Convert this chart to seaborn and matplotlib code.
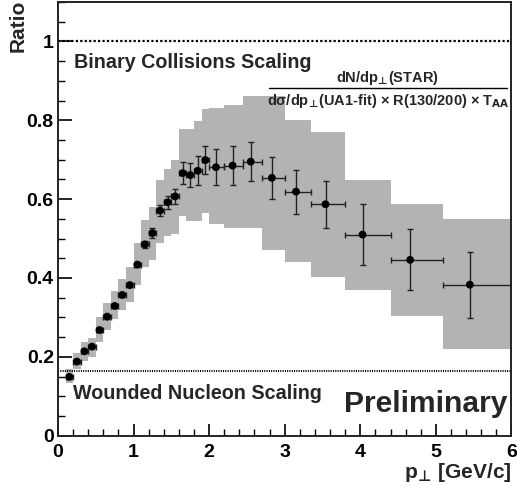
import numpy as np
import pandas as pd
import matplotlib
matplotlib.use("Agg")
import matplotlib.pyplot as plt
import seaborn as sns
from matplotlib.ticker import FixedLocator, FixedFormatter, MultipleLocator

# mean p_perp of each bin and the measured ratio
pt = [0.15, 0.25, 0.35, 0.45, 0.55, 0.65, 0.75, 0.85, 0.95, 1.05,
      1.15, 1.25, 1.35, 1.45, 1.55, 1.65, 1.75, 1.85, 1.95, 2.09,
      2.31, 2.55, 2.83, 3.15, 3.54, 4.03, 4.66, 5.45]
ratio = [0.149, 0.188, 0.214, 0.226, 0.268, 0.302, 0.329, 0.357, 0.382, 0.434,
         0.485, 0.514, 0.571, 0.592, 0.607, 0.666, 0.661, 0.672, 0.699, 0.681,
         0.685, 0.695, 0.654, 0.619, 0.587, 0.510, 0.446, 0.383]
stat_err = [0.003, 0.003, 0.004, 0.004, 0.004, 0.005, 0.005, 0.006, 0.006, 0.007,
            0.008, 0.013, 0.015, 0.017, 0.019, 0.027, 0.031, 0.037, 0.036, 0.046,
            0.050, 0.050, 0.053, 0.056, 0.060, 0.077, 0.077, 0.084]

# bin edges (horizontal bars + systematic boxes)
bin_edges = [0.1, 0.2, 0.3, 0.4, 0.5, 0.6, 0.7, 0.8, 0.9, 1.0,
             1.1, 1.2, 1.3, 1.4, 1.5, 1.6, 1.7, 1.8, 1.9, 2.0,
             2.2, 2.45, 2.7, 3.0, 3.35, 3.8, 4.4, 5.1, 6.0]
sys_low = [0.133, 0.168, 0.190, 0.200, 0.237, 0.268, 0.297, 0.318, 0.340, 0.383,
           0.428, 0.445, 0.490, 0.506, 0.512, 0.556, 0.545, 0.545, 0.566, 0.537,
           0.527, 0.527, 0.470, 0.440, 0.403, 0.369, 0.303, 0.219]
sys_high = [0.168, 0.209, 0.237, 0.249, 0.301, 0.337, 0.366, 0.398, 0.428, 0.489,
            0.546, 0.581, 0.649, 0.677, 0.700, 0.778, 0.778, 0.797, 0.829, 0.830,
            0.840, 0.862, 0.862, 0.800, 0.770, 0.649, 0.587, 0.549]

binary_level = 1.0
wounded_level = 0.164

x_ticks = [0, 1, 2, 3, 4, 5, 6]
x_tick_labels = ["0", "1", "2", "3", "4", "5", "6"]
y_ticks = [0, 0.2, 0.4, 0.6, 0.8, 1.0]
y_tick_labels = ["0", "0.2", "0.4", "0.6", "0.8", "1"]


def main():
    sns.set_style("white")
    plt.rcParams['font.family'] = ['Liberation Sans', 'DejaVu Sans']
    plt.rcParams['font.weight'] = 'bold'
    plt.rcParams['mathtext.fontset'] = 'dejavusans'

    df = pd.DataFrame({"pt": pt, "ratio": ratio, "err": stat_err})
    edges = np.array(bin_edges)
    x = np.array(pt)

    fig = plt.figure(figsize=(5.17, 4.86), dpi=100)
    ax = fig.add_axes([0.1122, 0.1035, 0.877, 0.8924])

    # systematic boxes
    ax.fill_between(edges, sys_low + [sys_low[-1]], sys_high + [sys_high[-1]],
                    step="post", color="#b3b3b3", linewidth=0, zorder=1)

    ax.axhline(binary_level, color="black", lw=1.6, ls=(0, (1, 1)), zorder=2)
    ax.axhline(wounded_level, color="black", lw=1.5, ls=(0, (0.5, 0.6)), zorder=2)

    ax.errorbar(x, ratio, yerr=stat_err,
                xerr=[x - edges[:-1], edges[1:] - x],
                fmt="none", ecolor="#222222", elinewidth=1.0,
                capsize=2, capthick=1.0, zorder=3)
    sns.scatterplot(data=df, x="pt", y="ratio", ax=ax, color="black",
                    s=32, edgecolor="none", zorder=4, legend=False)

    ax.set_xlim(0, 6)
    ax.set_ylim(0, 1.1)
    ax.xaxis.set_major_locator(FixedLocator(x_ticks))
    ax.xaxis.set_major_formatter(FixedFormatter(x_tick_labels))
    ax.xaxis.set_minor_locator(MultipleLocator(0.2))
    ax.yaxis.set_major_locator(FixedLocator(y_ticks))
    ax.yaxis.set_major_formatter(FixedFormatter(y_tick_labels))
    ax.yaxis.set_minor_locator(MultipleLocator(0.05))
    ax.tick_params(which="both", direction="in", top=False, right=False,
                   bottom=True, left=True, colors="black", labelsize=14)
    ax.tick_params(axis="y", which="major", length=10, width=1.2, pad=3)
    ax.tick_params(axis="y", which="minor", length=5, width=1.0)
    ax.tick_params(axis="x", which="major", length=9, width=1.2, pad=6)
    ax.tick_params(axis="x", which="minor", length=5, width=1.0)
    for lab in ax.get_xticklabels() + ax.get_yticklabels():
        lab.set_fontweight("bold")
    for sp in ax.spines.values():
        sp.set_color("#222222")
        sp.set_linewidth(1.4)

    ax.set_ylabel("Ratio", loc="top", fontsize=15, fontweight="bold")
    ax.yaxis.set_label_coords(-0.066, 1.005)
    ax.set_xlabel(r"p$_{\!\bot\!}$ [GeV/c]", loc="right", fontsize=15, fontweight="bold")
    ax.xaxis.set_label_coords(1.0, -0.058)

    ax.text(0.21, 0.946, "Binary Collisions Scaling", fontsize=14.2,
            fontweight="bold", va="center", ha="left")
    ax.text(0.20, 0.108, "Wounded Nucleon Scaling", fontsize=14.2,
            fontweight="bold", va="center", ha="left")
    ax.text(5.94, 0.08, "Preliminary", fontsize=21.6, fontweight="bold",
            va="center", ha="right")

    ax.text(4.365, 0.908, r"dN/dp$_{\!\bot\!}$(STAR)", fontsize=10.5,
            fontweight="bold", va="center", ha="center")
    ax.plot([2.79, 5.94], [0.883, 0.883], color="black", lw=1.0)
    ax.text(4.365, 0.848, r"dσ/dp$_{\!\bot\!}$(UA1-fit) × R(130/200) × T$_{\mathbf{AA}}$",
            fontsize=10.5, fontweight="bold", va="center", ha="center")

    fig.savefig("out.png", dpi=100)


if __name__ == "__main__":
    main()
